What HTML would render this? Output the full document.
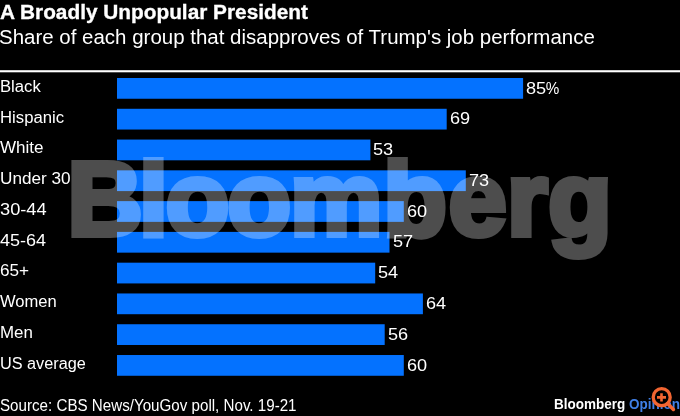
<!DOCTYPE html>
<html><head><meta charset="utf-8">
<style>
html,body{margin:0;padding:0;background:#000;}
body{width:680px;height:416px;position:relative;overflow:hidden;font-family:"Liberation Sans",sans-serif;color:#fff;}
.t{position:absolute;white-space:nowrap;line-height:1.15;transform-origin:0 0;}
#title{left:0px;top:0.9px;font-size:19.6px;font-weight:bold;-webkit-text-stroke:0.3px #fff;transform:scaleX(1.062);}
#sub{left:-1.5px;top:25.7px;font-size:19.4px;transform:scaleX(1.056);}
.lab{font-size:16.0px;left:0px;transform:scaleX(1.027);}
.val{z-index:3;font-size:15.7px;transform:scaleX(1.155);}
.pc{display:inline-block;transform:scaleX(0.84);transform-origin:0 50%;}
#src{left:0px;top:397.0px;font-size:15.6px;transform:scaleX(0.972);}
#wm,#chart{position:absolute;left:0;top:0;}
#wm text{font-family:"Liberation Sans",sans-serif;font-weight:bold;font-size:104px;letter-spacing:0px;fill:#fff;stroke:#fff;stroke-width:6px;stroke-linejoin:miter;}
#bo{left:554px;top:396.2px;font-size:14.3px;font-weight:bold;transform:scaleX(0.944);}
#bo span{color:#3f7fe6;}
#mag{position:absolute;left:645px;top:381px;}
</style></head><body>
<div id="title" class="t">A Broadly Unpopular President</div>
<div id="sub" class="t">Share of each group that disapproves of Trump's job performance</div>
<svg id="chart" width="680" height="416" viewBox="0 0 680 416"><rect x="0" y="70.2" width="680" height="2.1" fill="#fff"/><g fill="#0472ff">
<rect x="117" y="78.00" width="406.1" height="20.75"/>
<rect x="117" y="108.78" width="329.7" height="20.75"/>
<rect x="117" y="139.56" width="253.4" height="20.75"/>
<rect x="117" y="170.34" width="348.8" height="20.75"/>
<rect x="117" y="201.12" width="286.8" height="20.75"/>
<rect x="117" y="231.90" width="272.5" height="20.75"/>
<rect x="117" y="262.68" width="258.2" height="20.75"/>
<rect x="117" y="293.46" width="305.9" height="20.75"/>
<rect x="117" y="324.24" width="267.7" height="20.75"/>
<rect x="117" y="355.02" width="286.8" height="20.75"/>
</g></svg>
<div id="bars">
<div class="t lab" style="top:77.80px;transform:scaleX(1.0410)">Black</div>
<div class="t val" style="top:79.50px;left:526.1px">85<span class="pc">%</span></div>
<div class="t lab" style="top:108.58px;transform:scaleX(1.0443)">Hispanic</div>
<div class="t val" style="top:110.28px;left:449.7px">69</div>
<div class="t lab" style="top:139.36px;transform:scaleX(1.0650)">White</div>
<div class="t val" style="top:141.06px;left:373.4px">53</div>
<div class="t lab" style="top:170.14px;transform:scaleX(1.0723)">Under 30</div>
<div class="t val" style="top:171.84px;left:468.8px">73</div>
<div class="t lab" style="top:200.92px;transform:scaleX(1.1400)">30-44</div>
<div class="t val" style="top:202.62px;left:406.8px">60</div>
<div class="t lab" style="top:231.70px;transform:scaleX(1.1250)">45-64</div>
<div class="t val" style="top:233.40px;left:392.5px">57</div>
<div class="t lab" style="top:262.48px;transform:scaleX(1.0731)">65+</div>
<div class="t val" style="top:264.18px;left:378.2px">54</div>
<div class="t lab" style="top:293.26px;transform:scaleX(1.0352)">Women</div>
<div class="t val" style="top:294.96px;left:425.9px">64</div>
<div class="t lab" style="top:324.04px;transform:scaleX(1.0567)">Men</div>
<div class="t val" style="top:325.74px;left:387.7px">56</div>
<div class="t lab" style="top:354.82px;transform:scaleX(1.0155)">US average</div>
<div class="t val" style="top:356.52px;left:406.8px">60</div>
</div>
<svg id="wm" width="680" height="416" viewBox="0 0 680 416"><g opacity="0.30"><text x="67.5 139 165.75 227.5 290 383.25 448.75 507 548.25" y="235.2">Bloomberg</text></g></svg>
<div id="bo" class="t">Bloomberg <span>Opinion</span></div>
<svg id="mag" width="35" height="35" viewBox="645 381 35 35">
<circle cx="661.7" cy="397.2" r="8.5" fill="#000" stroke="#f26531" stroke-width="3.3"/>
<path d="M657 397.4H666M661.5 393.2V401.6" stroke="#f26531" stroke-width="2.6" fill="none"/>
<path d="M667.5 403.5L673.4 409.4" stroke="#f26531" stroke-width="3.5" stroke-linecap="round" fill="none"/>
</svg>
<div id="src" class="t">Source: CBS News/YouGov poll, Nov. 19-21</div>
</body></html>
